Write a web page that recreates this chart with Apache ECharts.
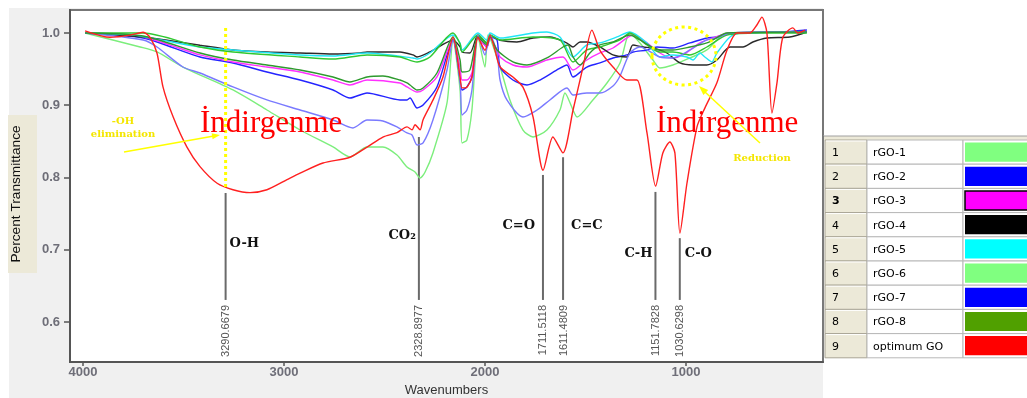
<!DOCTYPE html>
<html>
<head>
<meta charset="utf-8">
<script src="https://cdn.jsdelivr.net/npm/echarts@6/dist/echarts.min.js"></script>
<style>
  html, body { margin: 0; padding: 0; background: #ffffff; }
  #wrap { position: relative; width: 1027px; height: 398px; overflow: hidden; }
  #panel { position: absolute; left: 9px; top: 8px; width: 814px; height: 390px; background: #f0f0f0; }
  #chart { position: absolute; left: 0; top: 0; width: 1027px; height: 398px; }
</style>
</head>
<body>
<div id="wrap"><div id="panel"></div><div id="chart"></div></div>
<script>
// FTIR spectra: [wavenumber (cm-1), transmittance]
const rGO1 = [[3990,1.0],[3716,0.9806],[3632,0.9737],[3503,0.9529],[3254,0.9211],[3085,0.8934],[2920,0.8657],[2756,0.8422],[2672,0.8284],[2587,0.8422],[2508,0.8422],[2438,0.831],[2388,0.8145],[2348,0.8076],[2323,0.7993],[2298,0.8076],[2259,0.8339],[2189,0.9031],[2159,0.9903],[2124,0.921],[2114,0.8478],[2090,0.8519],[2065,0.8934],[2035,0.9945],[2000,0.9529],[1985,0.9972],[1925,0.9529],[1876,0.9073],[1811,0.8657],[1761,0.8561],[1692,0.8657],[1627,0.8934],[1602,0.917],[1562,0.8934],[1542,0.8837],[1463,0.9073],[1393,0.9308],[1328,0.9585],[1279,1.0],[1229,0.9862],[1164,0.9626],[1130,0.9516],[1065,0.9557],[980,0.9654],[896,0.9765],[846,0.9903],[796,1.0],[398,1.0014]];
const rGO2 = [[3990,1.0],[3701,0.9931],[3418,0.9668],[3254,0.9585],[3085,0.946],[2920,0.9349],[2756,0.9211],[2672,0.91],[2587,0.917],[2423,0.9073],[2388,0.9073],[2373,0.91],[2338,0.8962],[2308,0.9003],[2239,0.9253],[2159,0.9903],[2124,0.9349],[2114,0.9211],[2090,0.9253],[2065,0.9391],[2035,0.9945],[1990,0.9806],[1975,0.9945],[1940,0.9903],[1925,0.9529],[1861,0.9349],[1791,0.928],[1726,0.9349],[1642,0.9488],[1592,0.9557],[1562,0.9391],[1493,0.9529],[1428,0.9585],[1363,0.9654],[1294,0.9696],[1264,0.9737],[1194,0.9765],[1144,0.9806],[1065,0.9792],[980,0.9862],[896,0.9931],[846,0.9945],[781,1.0],[532,1.0014],[398,1.0042]];
const rGO3 = [[3990,1.0],[3701,0.9945],[3418,0.9696],[3254,0.9599],[3085,0.9529],[2920,0.946],[2756,0.9349],[2672,0.928],[2587,0.9349],[2423,0.9308],[2388,0.9253],[2338,0.9183],[2308,0.9211],[2239,0.9391],[2159,0.9903],[2124,0.9516],[2114,0.9349],[2090,0.9349],[2065,0.9446],[2035,0.9931],[1990,0.9806],[1975,0.9931],[1940,0.9765],[1925,0.9668],[1861,0.9557],[1791,0.9529],[1692,0.9626],[1612,0.9668],[1562,0.9488],[1493,0.9626],[1428,0.9723],[1363,0.9792],[1294,0.9931],[1264,0.9972],[1194,0.9862],[1130,0.9723],[1065,0.9654],[1015,0.9696],[930,0.9862],[866,0.9931],[781,1.0],[398,1.0014]];
const rGO4 = [[3990,1.0],[3701,0.9945],[3582,0.990],[3418,0.983],[3254,0.9765],[3085,0.9737],[2920,0.9723],[2756,0.9709],[2622,0.9723],[2587,0.9737],[2423,0.9737],[2358,0.9696],[2338,0.9668],[2274,0.9737],[2159,0.990],[2124,0.981],[2114,0.9737],[2075,0.9723],[2035,0.997],[1990,0.986],[1975,0.997],[1925,0.990],[1841,0.9875],[1761,0.993],[1677,0.9945],[1592,0.986],[1562,0.9806],[1527,0.9875],[1493,0.9875],[1428,0.9806],[1363,0.9696],[1294,0.9668],[1264,0.9834],[1214,0.9806],[1164,0.9792],[1095,0.9723],[1030,0.9585],[965,0.9557],[896,0.9557],[846,0.9626],[781,0.9806],[716,0.9806],[667,0.9875],[597,0.993],[483,0.9945],[398,1.0014]];
const rGO5 = [[3990,1.0],[3751,0.997],[3418,0.9806],[3254,0.9765],[2920,0.9696],[2756,0.9682],[2587,0.9723],[2358,0.9654],[2338,0.964],[2274,0.9723],[2159,0.9972],[2124,0.986],[2114,0.9765],[2035,1.0],[1990,0.990],[1975,1.0],[1925,0.993],[1761,1.0],[1692,1.0014],[1627,0.9945],[1562,0.9668],[1493,0.9834],[1428,0.9862],[1343,0.9945],[1279,1.0014],[1194,0.9862],[1130,0.9668],[1065,0.9696],[995,0.9668],[965,0.9626],[930,0.9723],[906,0.9668],[871,0.9599],[846,0.9723],[781,0.9945],[731,1.0],[398,1.0014]];
const rGO6 = [[3990,1.0],[3701,1.0],[3418,0.9806],[3254,0.9737],[2920,0.9668],[2756,0.964],[2587,0.9696],[2423,0.9668],[2338,0.9599],[2274,0.9668],[2159,1.0],[2124,0.985],[2114,0.9737],[2035,0.9972],[1990,0.9862],[1975,0.9972],[1925,0.9903],[1761,0.9945],[1627,0.9903],[1562,0.9599],[1493,0.9765],[1428,0.9806],[1328,0.9903],[1279,1.0],[1194,0.9834],[1130,0.9737],[1065,0.9737],[980,0.9696],[896,0.9806],[796,0.9972],[632,1.0],[398,1.0]];
const rGO7 = [[3990,1.0],[3701,0.9903],[3632,0.9806],[3503,0.9529],[3418,0.9446],[3254,0.9253],[3085,0.9073],[2920,0.8934],[2756,0.8796],[2657,0.8685],[2587,0.8796],[2508,0.8782],[2438,0.8699],[2388,0.8616],[2363,0.8588],[2338,0.845],[2308,0.8478],[2259,0.8796],[2189,0.9488],[2159,0.9903],[2124,0.9349],[2114,0.8865],[2090,0.8934],[2065,0.9211],[2035,0.9972],[2000,0.9696],[1975,0.9972],[1940,0.9723],[1925,0.9349],[1891,0.9073],[1811,0.8837],[1741,0.8934],[1677,0.9073],[1592,0.9239],[1562,0.9142],[1493,0.917],[1428,0.917],[1363,0.9267],[1328,0.9405],[1279,0.9722],[1229,0.9806],[1130,0.9668],[1065,0.9654],[980,0.9765],[896,0.9903],[846,0.9931],[781,1.0],[398,1.0014]];
const rGO8 = [[3990,1.0],[3701,0.9958],[3418,0.9723],[3254,0.9626],[3085,0.9557],[2920,0.9488],[2756,0.9391],[2672,0.9322],[2587,0.9391],[2508,0.9405],[2423,0.9349],[2388,0.9308],[2373,0.928],[2338,0.9211],[2308,0.9239],[2239,0.9446],[2159,0.9945],[2124,0.9626],[2114,0.946],[2075,0.9488],[2035,0.9945],[1990,0.9834],[1975,0.9945],[1940,0.9765],[1861,0.9599],[1791,0.9557],[1692,0.9654],[1612,0.9806],[1587,0.9834],[1562,0.9668],[1527,0.9557],[1478,0.9723],[1428,0.9834],[1363,0.9875],[1279,0.9972],[1229,0.9903],[1130,0.9765],[1065,0.9765],[980,0.9806],[896,0.9862],[866,0.9903],[796,1.0],[398,1.0014]];
const optimumGO = [[3990,1.003],[3866,0.994],[3766,0.997],[3701,1.001],[3667,0.994],[3632,0.972],[3602,0.925],[3552,0.884],[3483,0.842],[3418,0.815],[3333,0.792],[3254,0.783],[3169,0.779],[3085,0.783],[2985,0.797],[2920,0.806],[2806,0.820],[2672,0.828],[2587,0.842],[2508,0.856],[2438,0.862],[2388,0.870],[2363,0.866],[2348,0.873],[2323,0.866],[2308,0.880],[2259,0.907],[2209,0.939],[2159,0.994],[2124,0.939],[2114,0.924],[2090,0.925],[2065,0.939],[2035,0.994],[2000,0.976],[1975,0.997],[1950,0.976],[1925,0.953],[1861,0.939],[1811,0.925],[1761,0.884],[1711,0.810],[1662,0.856],[1612,0.834],[1562,0.893],[1512,0.953],[1468,1.004],[1428,0.976],[1363,0.953],[1294,0.935],[1244,0.935],[1194,0.862],[1151,0.788],[1115,0.834],[1080,0.849],[1055,0.834],[1030,0.723],[995,0.792],[945,0.870],[906,0.896],[846,0.931],[796,0.976],[746,1.000],[682,1.000],[647,1.011],[622,1.022],[597,1.000],[572,0.889],[547,0.931],[518,0.994],[468,1.007],[443,1.000],[408,1.004]];

const seriesNames = ['rGO-1','rGO-2','rGO-3','rGO-4','rGO-5','rGO-6','rGO-7','rGO-8','optimum GO'];
const seriesData = [rGO1, rGO2, rGO3, rGO4, rGO5, rGO6, rGO7, rGO8, optimumGO];

// axis ticks
const wavenumberTicks = [1000, 2000, 3000, 4000];
const transmittanceTicks = [0.6, 0.7, 0.8, 0.9, 1.0];

// assigned bands
const peakWavenumbers = [3290.6679, 2328.8977, 1711.5118, 1611.4809, 1151.7828, 1030.6298];
const peakBonds = ['O-H', 'CO\u2082', 'C=O', 'C=C', 'C-H', 'C-O'];
const peakLineTop = [0.7785, 0.856, 0.8035, 0.828, 0.780, 0.716];
const peakLineBottom = 0.6305;
// O-H elimination guide (transmittance extent)
const ohGuide = [1.007, 0.786];

// colours, line widths and label placement
const lineColors = ['#7cee7c','#2424ff','#ff30ff','#2a2a2a','#20e6f6','#30c830','#7a7aff','#2e9a2e','#ff2020'];
const swatchColors = ['#80ff80','#0000ff','#ff00ff','#000000','#00ffff','#80ff80','#0000ff','#50a000','#ff0000'];
const bondLayout = [
  { side: 'right', gap: 4, t: 0.708 },
  { side: 'left',  gap: 3, t: 0.719 },
  { side: 'left',  gap: 8, t: 0.733 },
  { side: 'right', gap: 8, t: 0.733 },
  { side: 'left',  gap: 3, t: 0.694 },
  { side: 'right', gap: 5, t: 0.694 }
];

const chart = echarts.init(document.getElementById('chart'), null, { renderer: 'canvas' });

const lineSeries = seriesData.map((d, i) => ({
  name: seriesNames[i],
  type: 'line',
  data: d,
  showSymbol: false,
  smooth: 0.25,
  silent: true,
  z: i === 8 ? 4 : 2,
  lineStyle: { color: lineColors[i], width: 1.4 },
  itemStyle: { color: lineColors[i] }
}));

const peakSeries = {
  type: 'custom',
  silent: true,
  z: 1,
  encode: { x: 0, y: 1 },
  data: peakWavenumbers.map((wn, i) => [wn, peakLineTop[i], i]),
  renderItem(params, api) {
    const i = api.value(2);
    const wn = api.value(0);
    const top = api.coord([wn, api.value(1)]);
    const bottom = api.coord([wn, peakLineBottom]);
    const lay = bondLayout[i];
    const lab = api.coord([wn, lay.t]);
    const right = lay.side === 'right';
    return {
      type: 'group',
      children: [
        { type: 'line', shape: { x1: top[0], y1: top[1], x2: bottom[0], y2: bottom[1] },
          style: { stroke: '#6a6a6a', lineWidth: 2 } },
        { type: 'text', x: bottom[0] + 0.5, y: bottom[1] + 5, rotation: Math.PI / 2,
          style: { text: peakWavenumbers[i].toFixed(4), align: 'right', verticalAlign: 'middle',
                   font: '11px "Liberation Sans", Arial, sans-serif', fill: '#555' } },
        { type: 'text', x: lab[0] + (right ? lay.gap : -lay.gap), y: lab[1],
          style: { text: peakBonds[i], align: right ? 'left' : 'right', verticalAlign: 'middle',
                   font: 'bold 13px "DejaVu Serif", serif', fill: '#111' } }
      ]
    };
  }
};

const guideSeries = {
  type: 'custom',
  silent: true,
  z: 5,
  encode: { x: 0, y: 1 },
  data: [[peakWavenumbers[0], ohGuide[0], ohGuide[1]]],
  renderItem(params, api) {
    const a = api.coord([api.value(0), api.value(1)]);
    const b = api.coord([api.value(0), api.value(2)]);
    return { type: 'line', shape: { x1: a[0], y1: a[1], x2: b[0], y2: b[1] },
             style: { stroke: '#ffff00', lineWidth: 3, lineDash: [3, 3] } };
  }
};

// legend table at the right
const tableLeft = 823, tableTop = 140, rowH = 24.2;
const legendEls = [
  { type: 'rect', shape: { x: tableLeft, y: tableTop - 4, width: 204, height: 4 }, style: { fill: '#ece9d8' } },
  { type: 'line', shape: { x1: tableLeft, y1: tableTop - 4, x2: 1027, y2: tableTop - 4 }, style: { stroke: '#a0a0a0', lineWidth: 1 } }
];
seriesNames.forEach((name, i) => {
  const y = tableTop + i * rowH;
  legendEls.push(
    { type: 'rect', shape: { x: tableLeft + 2, y: y, width: 42, height: rowH }, style: { fill: '#ece9d8', stroke: '#a8a495', lineWidth: 1 } },
    { type: 'line', shape: { x1: tableLeft + 3, y1: y + 1, x2: tableLeft + 43, y2: y + 1 }, style: { stroke: '#ffffff', lineWidth: 1 } },
    { type: 'text', x: tableLeft + 9, y: y + rowH / 2 + 1,
      style: { text: String(i + 1), verticalAlign: 'middle', fill: '#000',
               font: (i === 2 ? 'bold ' : '') + '11px "DejaVu Sans", sans-serif' } },
    { type: 'rect', shape: { x: tableLeft + 44, y: y, width: 96, height: rowH }, style: { fill: '#ffffff', stroke: '#b8b8b8', lineWidth: 1 } },
    { type: 'text', x: tableLeft + 50, y: y + rowH / 2 + 1,
      style: { text: name, verticalAlign: 'middle', fill: '#000', font: '11px "DejaVu Sans", sans-serif' } },
    { type: 'rect', shape: { x: tableLeft + 140, y: y, width: 70, height: rowH }, style: { fill: '#ffffff', stroke: '#b8b8b8', lineWidth: 1 } },
    { type: 'rect', shape: { x: tableLeft + 142, y: y + 2.5, width: 66, height: rowH - 5 },
      style: { fill: swatchColors[i], stroke: i === 2 ? '#000' : null, lineWidth: i === 2 ? 1.5 : 0 } }
  );
});
legendEls.push({ type: 'line', shape: { x1: tableLeft, y1: tableTop - 4, x2: tableLeft, y2: tableTop + 9 * rowH },
                 style: { stroke: '#7a7a7a', lineWidth: 2 } });

const yellow = '#ffff00';
const annotationEls = [
  // y-axis title on its tab
  { type: 'rect', shape: { x: 8, y: 115, width: 29, height: 158 }, style: { fill: '#ece9d8' } },
  { type: 'text', x: 16, y: 194, rotation: Math.PI / 2,
    style: { text: 'Percent Transmittance', align: 'center', verticalAlign: 'middle',
             font: '13.7px "Liberation Sans", Arial, sans-serif', fill: '#111' } },
  // red headings
  { type: 'text', x: 200, y: 124, z: 50,
    style: { text: 'İndirgenme', verticalAlign: 'middle', fill: '#ff0000',
             font: '31px "Liberation Serif", "Times New Roman", serif' } },
  { type: 'text', x: 656, y: 124, z: 50,
    style: { text: 'İndirgenme', verticalAlign: 'middle', fill: '#ff0000',
             font: '31px "Liberation Serif", "Times New Roman", serif' } },
  // -OH elimination note and arrow
  { type: 'text', x: 123, y: 121, z: 50,
    style: { text: '-OH', align: 'center', verticalAlign: 'middle', fill: '#f4e600',
             font: 'bold 10px "DejaVu Serif", serif' } },
  { type: 'text', x: 123, y: 134, z: 50,
    style: { text: 'elimination', align: 'center', verticalAlign: 'middle', fill: '#f4e600',
             font: 'bold 10px "DejaVu Serif", serif' } },
  { type: 'line', z: 50, shape: { x1: 124, y1: 152, x2: 214, y2: 136 }, style: { stroke: yellow, lineWidth: 1.5 } },
  { type: 'polygon', z: 50, shape: { points: [[220, 135], [212.6, 139.2], [211.6, 133.2]] }, style: { fill: yellow } },
  // reduction circle, arrow and note
  { type: 'ellipse', z: 50, shape: { cx: 684, cy: 56, rx: 32, ry: 29 },
    style: { fill: null, stroke: yellow, lineWidth: 3, lineDash: [3, 3.5] } },
  { type: 'line', z: 50, shape: { x1: 760, y1: 143, x2: 705, y2: 92 }, style: { stroke: yellow, lineWidth: 1.5 } },
  { type: 'polygon', z: 50, shape: { points: [[699, 86], [708.2, 89.9], [703.4, 95.1]] }, style: { fill: yellow } },
  { type: 'text', x: 762, y: 158, z: 50,
    style: { text: 'Reduction', align: 'center', verticalAlign: 'middle', fill: '#f4e600',
             font: 'bold 10px "DejaVu Serif", serif' } }
];

chart.setOption({
  animation: false,
  backgroundColor: 'transparent',
  grid: { left: 70, top: 10, width: 753, height: 352, show: true, backgroundColor: '#ffffff',
          borderColor: '#777777', borderWidth: 2, containLabel: false, outerBoundsMode: 'none' },
  xAxis: {
    type: 'value', inverse: true, min: 318, max: 4065,
    name: 'Wavenumbers', nameLocation: 'middle', nameGap: 22,
    nameTextStyle: { fontFamily: '"Liberation Sans", Arial, sans-serif', fontSize: 13, color: '#333' },
    axisLine: { show: true, onZero: false, lineStyle: { color: '#555', width: 2 } },
    axisTick: { show: true, length: 4, customValues: wavenumberTicks, lineStyle: { color: '#555', width: 1.5 } },
    axisLabel: { customValues: wavenumberTicks, margin: 4, color: '#6e6e78', fontWeight: 'bold',
                 fontSize: 13, fontFamily: '"Liberation Sans", Arial, sans-serif', formatter: v => String(v) },
    splitLine: { show: false }
  },
  yAxis: {
    type: 'value', min: 0.5446, max: 1.0318,
    axisLine: { show: true, onZero: false, lineStyle: { color: '#555', width: 2 } },
    axisTick: { show: true, length: 6, customValues: transmittanceTicks, lineStyle: { color: '#555', width: 1.5 } },
    axisLabel: { customValues: transmittanceTicks, margin: 10, color: '#6e6e78', fontWeight: 'bold',
                 fontSize: 13, fontFamily: '"Liberation Sans", Arial, sans-serif', formatter: v => v.toFixed(1) },
    splitLine: { show: false }
  },
  series: [peakSeries, ...lineSeries, guideSeries],
  graphic: { elements: [...annotationEls, ...legendEls] }
});
</script>
</body>
</html>
